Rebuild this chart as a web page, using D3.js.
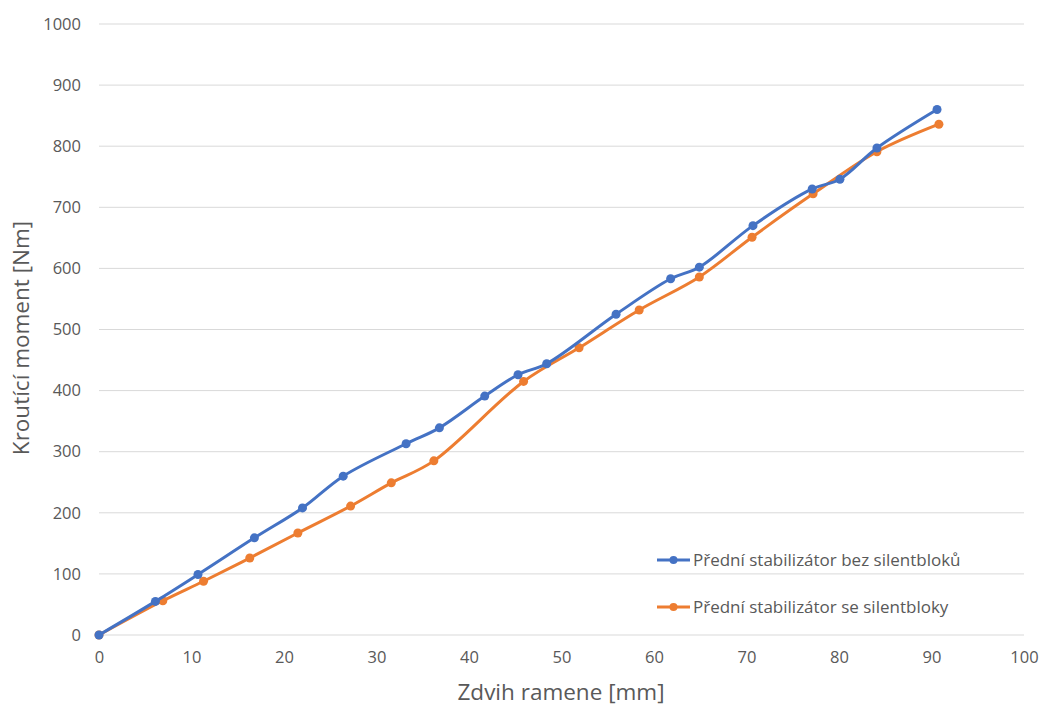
<!DOCTYPE html>
<html><head><meta charset="utf-8">
<script src="https://cdn.jsdelivr.net/npm/d3@7"></script>
<style>body{margin:0;background:#fff}svg{display:block}text{font-family:"Open Sans",sans-serif}</style>
</head><body><svg id="c" width="1045" height="704"></svg>
<script>
const seriesNames = ["Přední stabilizátor bez silentbloků", "Přední stabilizátor se silentbloky"];
const xBlue = [0, 6.1, 10.7, 16.8, 22.0, 26.4, 33.2, 36.8, 41.7, 45.3, 48.4, 55.9, 61.8, 64.9, 70.7, 77.1, 80.1, 84.1, 90.6];
const yBlue = [0, 55, 99, 159, 208, 260, 313, 339, 391, 426, 444, 525, 583, 602, 670, 730, 746, 797, 860];
const xOrange = [0, 6.9, 11.3, 16.3, 21.5, 27.2, 31.6, 36.2, 45.9, 51.9, 58.4, 64.9, 70.6, 77.2, 84.1, 90.8];
const yOrange = [0, 56, 88, 126, 167, 211, 249, 285, 415, 470, 532, 586, 651, 722, 791, 836];
const xTicks = [0,10,20,30,40,50,60,70,80,90,100];
const yTicks = [0,100,200,300,400,500,600,700,800,900,1000];
const colors = ["#4472C4", "#ED7D31"];

const svg = d3.select("#c");
const x = d3.scaleLinear().domain([0,100]).range([99,1024]);
const y = d3.scaleLinear().domain([0,1000]).range([635,24]);

svg.append("g").selectAll("line").data(yTicks).join("line")
  .attr("x1", x(0)).attr("x2", x(100))
  .attr("y1", d=>y(d)).attr("y2", d=>y(d))
  .attr("stroke", "#d9d9d9").attr("stroke-width", 1);

const ya = svg.append("g").attr("transform", `translate(${x(0)},0)`)
  .call(d3.axisLeft(y).tickValues(yTicks).tickFormat(d3.format("d")).tickSize(0).tickPadding(18));
ya.select(".domain").remove();
ya.selectAll("text").attr("font-size", 16.5).attr("fill", "#595959").attr("font-family", '"Open Sans",sans-serif');

const xa = svg.append("g").attr("transform", `translate(0,${y(0)})`)
  .call(d3.axisBottom(x).tickValues(xTicks).tickFormat(d3.format("d")).tickSize(0).tickPadding(16));
xa.select(".domain").remove();
xa.selectAll("text").attr("font-size", 16.5).attr("fill", "#595959").attr("font-family", '"Open Sans",sans-serif');

svg.append("text").attr("x", 561).attr("y", 700).attr("text-anchor", "middle")
  .attr("font-size", 22.5).attr("fill", "#595959").text("Zdvih ramene [mm]");
svg.append("text").attr("transform", "translate(29,338) rotate(-90)").attr("text-anchor", "middle")
  .attr("font-size", 22.5).attr("fill", "#595959").text("Kroutící moment [Nm]");

const data = [
  xBlue.map((v,i)=>[v, yBlue[i]]),
  xOrange.map((v,i)=>[v, yOrange[i]])
];
const line = d3.line().x(d=>x(d[0])).y(d=>y(d[1])).curve(d3.curveCatmullRom.alpha(0.5));

[1,0].forEach(i=>{
  const g = svg.append("g");
  g.append("path").attr("d", line(data[i])).attr("fill","none")
    .attr("stroke", colors[i]).attr("stroke-width", 3).attr("stroke-linejoin","round").attr("stroke-linecap","round");
  g.selectAll("circle").data(data[i]).join("circle")
    .attr("cx", d=>x(d[0])).attr("cy", d=>y(d[1])).attr("r", 4.5).attr("fill", colors[i]);
});

const legY = [560, 607];
seriesNames.forEach((n,i)=>{
  const g = svg.append("g");
  g.append("line").attr("x1", 657).attr("x2", 690).attr("y1", legY[i]).attr("y2", legY[i])
    .attr("stroke", colors[i]).attr("stroke-width", 3);
  g.append("circle").attr("cx", 673.5).attr("cy", legY[i]).attr("r", 4).attr("fill", colors[i]);
  g.append("text").attr("x", 693).attr("y", legY[i]).attr("dy", "0.35em")
    .attr("font-size", 17).attr("fill", "#595959").text(n);
});
</script></body></html>
